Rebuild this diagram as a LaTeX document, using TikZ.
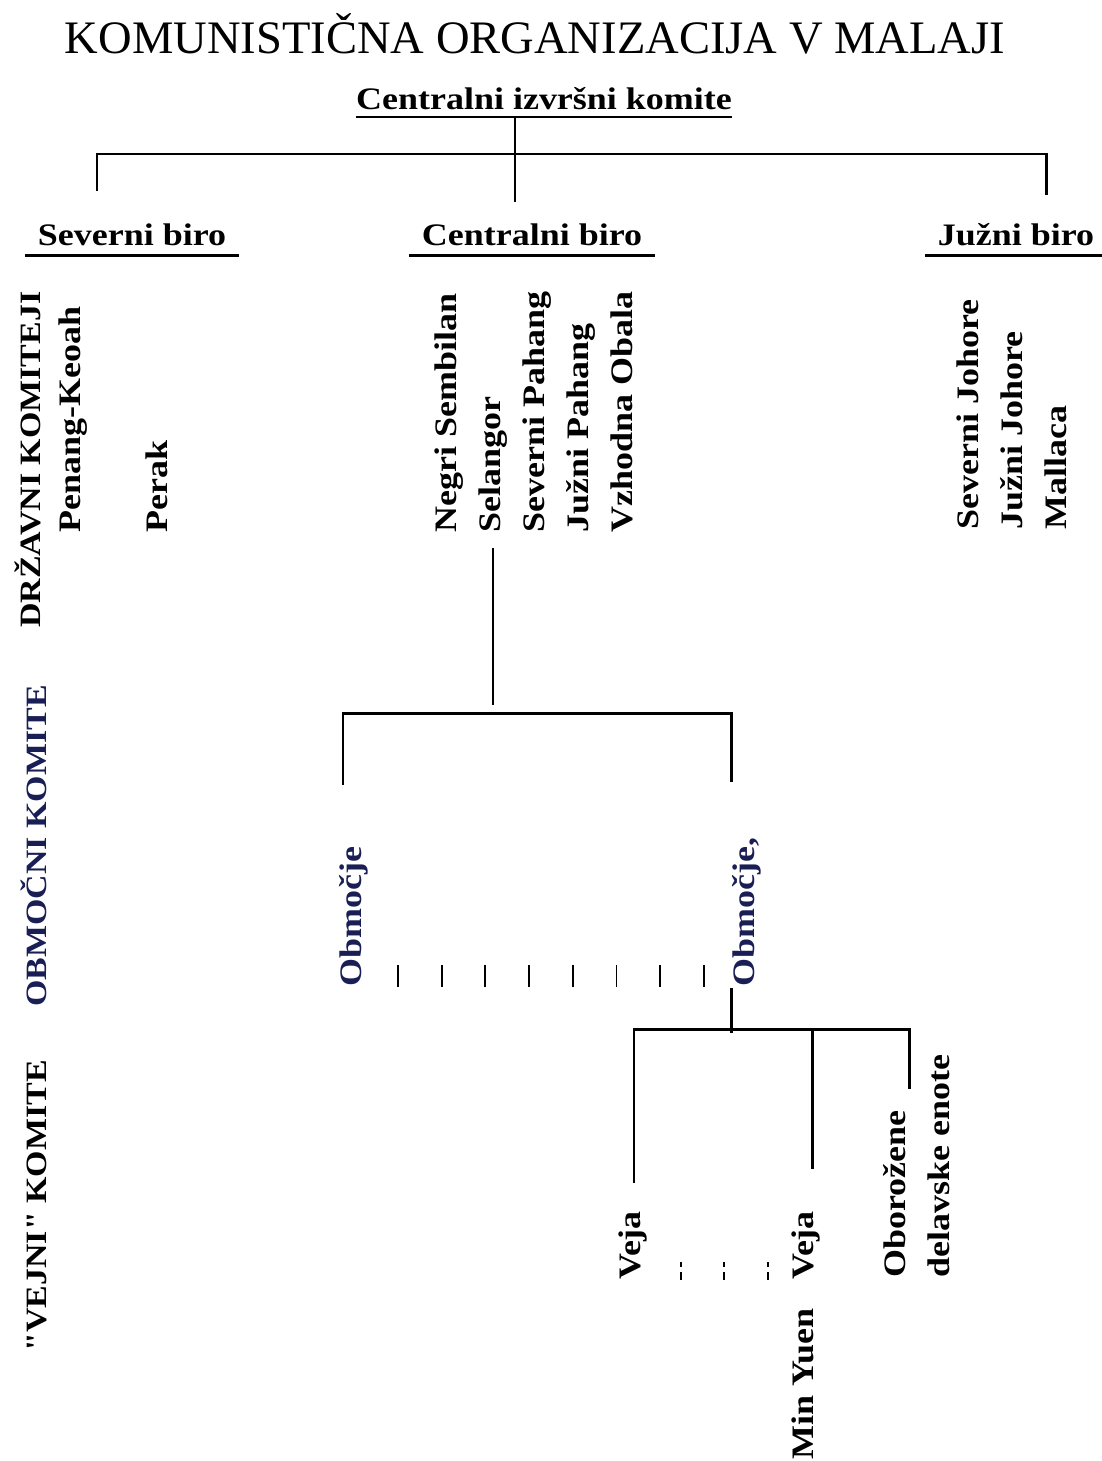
\documentclass[tikz,border=0pt]{standalone}
\usepackage{fontspec}
\setmainfont{Liberation Serif}[FakeStretch=1.15,Ligatures=TeXOff]
\newfontfamily\titlefont{Liberation Serif}
\definecolor{obmocje}{RGB}{25,30,85}

\begin{document}
\begin{tikzpicture}[x=0.02cm,y=-0.02cm,
    lbl/.style={font=\fontsize{17.8}{20}\selectfont\bfseries,inner sep=0pt},
    vlbl/.style={lbl,rotate=90,anchor=base west},
    nivo/.style={vlbl,font=\fontsize{16.8}{19}\selectfont\bfseries},
    biro/.style={lbl,anchor=base,text depth=0pt,inner xsep=7pt,inner ysep=5.7pt},
    conn/.style={draw,line width=1.7pt},
    tick/.style={draw,line width=1.1pt}]
  \useasboundingbox (0,0) rectangle (1102,1461);

  \node(title)[anchor=base,inner sep=0pt,font=\titlefont\fontsize{26.5}{30}\selectfont] at (535,53) {KOMUNISTIČNA ORGANIZACIJA V MALAJI};
  \node(cik)[lbl,anchor=base,text depth=0pt,inner ysep=4.5pt] at (544,109) {Centralni izvršni komite};
  \draw[line width=1.3pt] (cik.south west) -- (cik.south east);

  % biroji
  \node(sb)[biro] at (132,245) {Severni biro};
  \node(cb)[biro] at (532,245) {Centralni biro};
  \node(jb)[biro] at (1016,245) {Južni biro};
  \foreach \b in {sb,cb,jb}
    \draw[line width=1.5pt] (\b.south west) -- (\b.south east);

  % nivoji
  \node(drz)[nivo] at (40,628) {DRŽAVNI KOMITEJI};
  \node(obk)[nivo,text=obmocje] at (46,1007) {OBMOČNI KOMITE};
  \node(vk)[nivo] at (47,1352) {"VEJNI" KOMITE};

  % drzavni komiteji
  \node(pen)[vlbl] at (80,533) {Penang-Keoah};
  \node(per)[vlbl] at (167,533) {Perak};
  \foreach \name/\txt [count=\i from 0] in {neg/Negri Sembilan,sel/Selangor,spa/Severni Pahang,jpa/Južni Pahang,vob/Vzhodna Obala}
    \node(\name)[vlbl] at (456+44*\i,533) {\txt};
  \foreach \name/\txt [count=\i from 0] in {sjo/Severni Johore,jjo/Južni Johore,mal/Mallaca}
    \node(\name)[vlbl] at (978+44*\i,530) {\txt};

  % obmocja in veje
  \node(ob1)[vlbl,text=obmocje] at (361,987) {Območje};
  \node(ob2)[vlbl,text=obmocje] at (754,987) {Območje,};
  \node(ve1)[vlbl] at (640,1280) {Veja};
  \node(ve2)[vlbl] at (813,1280) {Veja};
  \node(my)[vlbl] at (813,1460) {Min Yuen};
  \node(obo)[vlbl] at (905,1278) {Oborožene};
  \node(del)[vlbl] at (949,1278) {delavske enote};

  \coordinate (cik-s) at (515,117);
  \coordinate (cik-j) at (515,154);
  \coordinate (cik-e) at (515,202);
  \coordinate (sb-n) at (97,191);
  \coordinate (jb-n) at (1046,195);
  \draw[conn] (cik-s) -- (cik-e);
  \draw[conn] (sb-n) |- (cik-j) -| (jb-n);

  \coordinate (sel-s) at (493,548);
  \coordinate (sel-e) at (493,705);
  \coordinate (ob-j) at (537,713);
  \coordinate (ob1-n) at (343,785);
  \coordinate (ob2-n) at (731,782);
  \draw[conn] (sel-s) -- (sel-e);
  \draw[conn] (ob1-n) |- (ob-j) -| (ob2-n);

  \coordinate (ob2-s) at (731,988);
  \coordinate (ob2-e) at (731,1033);
  \coordinate (ve-j) at (731,1029);
  \coordinate (ve1-n) at (634,1183);
  \coordinate (ve2-n) at (812,1169);
  \coordinate (oe-n) at (909,1089);
  \draw[conn] (ob2-s) -- (ob2-e);
  \draw[conn] (ve1-n) |- (ve-j) -| (oe-n);
  \draw[conn] (ve2-n) -- (ve2-n |- ve-j);

  \foreach \i in {0,...,7}
    \draw[tick] (398+43.7*\i,965) -- (398+43.7*\i,987);
  \foreach \x in {681,724,768}
    \draw[tick,dash pattern=on 2.8pt off 2.8pt on 4.6pt] (\x,1262) -- (\x,1280);
\end{tikzpicture}
\end{document}
